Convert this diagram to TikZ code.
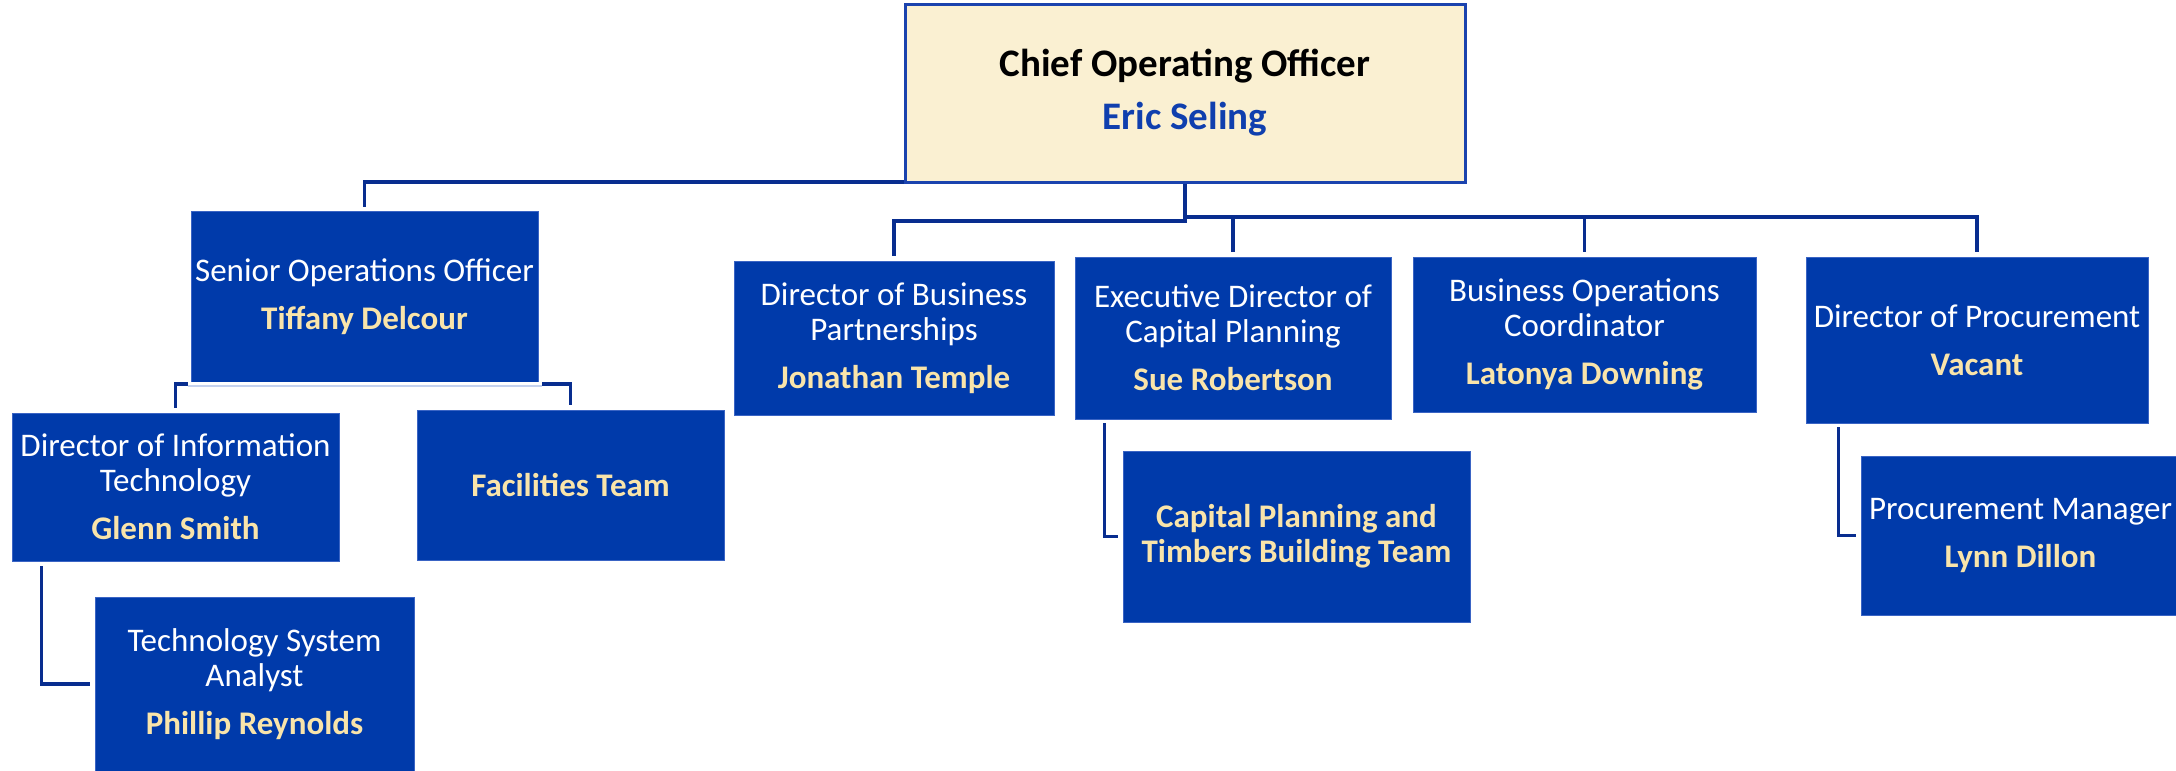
\documentclass[tikz,border=0pt]{standalone}
\usepackage{fontspec}
\setmainfont{Carlito}
\definecolor{boxblue}{HTML}{003AAA}
\definecolor{boxedge}{HTML}{3A64C4}
\definecolor{connblue}{HTML}{082D8F}
\definecolor{ceofill}{HTML}{FAF0D2}
\definecolor{ceoedge}{HTML}{1B43AE}
\definecolor{ceoname}{HTML}{0F3FAE}
\definecolor{nameyellow}{HTML}{F9E4AA}
\definecolor{lightline}{HTML}{C5D2EE}
\newcommand{\nm}[1]{\textbf{\color{nameyellow}#1}}
\tikzset{
  orgbox/.style={fill=boxblue, draw=boxedge, line width=0.4pt, text=white, align=center,
    inner sep=0pt, font=\fontsize{16.5}{17.5}\selectfont},
  ceobox/.style={fill=ceofill, draw=ceoedge, line width=1.5pt, text=black, align=center,
    inner sep=0pt, font=\fontsize{19.5}{26.5}\selectfont},
  conn/.style={draw=connblue, line width=1.7pt}
}
\begin{document}
\begin{tikzpicture}[x=0.5pt,y=-0.5pt]
\useasboundingbox (0,0) rectangle (2176,771);
\clip (0,0) rectangle (2176,771);
\fill[white] (0,0) rectangle (2176,771);

\coordinate (busl) at (0,221);
\coordinate (busr) at (0,217);
\coordinate (bracket) at (0,384);

% nodes
\node[ceobox, minimum width=280pt, minimum height=89pt] (ceo) at (1185,93)
  {\textbf{Chief Operating Officer}\\\textbf{\color{ceoname}Eric Seling}};
\node[orgbox, minimum width=173.5pt, minimum height=85.5pt] (soo) at (364.5,296.5)
  {Senior Operations Officer\\[6.5pt]\nm{Tiffany Delcour}};
\node[orgbox, minimum width=160pt, minimum height=77pt] (dbp) at (894,338)
  {Director of Business\\Partnerships\\[6.5pt]\nm{Jonathan Temple}};
\node[orgbox, minimum width=158pt, minimum height=81pt] (edcp) at (1233,338)
  {Executive Director of\\Capital Planning\\[6.5pt]\nm{Sue Robertson}};
\node[orgbox, minimum width=171.5pt, minimum height=77.5pt] (boc) at (1584.5,334.5)
  {Business Operations\\Coordinator\\[6.5pt]\nm{Latonya Downing}};
\node[orgbox, minimum width=171pt, minimum height=83pt] (dproc) at (1977,340)
  {Director of Procurement\\[6.5pt]\nm{Vacant}};
\node[orgbox, minimum width=163.5pt, minimum height=74pt] (dit) at (175.5,487)
  {Director of Information\\Technology\\[6.5pt]\nm{Glenn Smith}};
\node[orgbox, minimum width=153.5pt, minimum height=75pt] (fac) at (570.5,485)
  {\nm{Facilities Team}};
\node[orgbox, minimum width=159.5pt, minimum height=87pt] (tsa) at (254.5,684)
  {Technology System\\Analyst\\[6.5pt]\nm{Phillip Reynolds}};
\node[orgbox, minimum width=173.5pt, minimum height=85.5pt] (cpt) at (1296.5,536.5)
  {\nm{Capital Planning and}\\\nm{Timbers Building Team}};
\node[orgbox, minimum width=159.5pt, minimum height=79.5pt] (pm) at (2020.5,535.5)
  {Procurement Manager\\[6.5pt]\nm{Lynn Dillon}};

% CEO to Senior Operations Officer
\draw[conn] ([yshift=0.8pt]ceo.south west) -- ([yshift=0.8pt]ceo.south west -| soo.north) -- ([yshift=2pt]soo.north);
% CEO to directors
\draw[conn] (ceo.south) -- (ceo.south |- busl) -- (dbp.north |- busl) -- ([yshift=2.5pt]dbp.north);
\draw[conn] (ceo.south |- busr) -- (dproc.north |- busr) -- ([yshift=2.5pt]dproc.north);
\draw[conn] (edcp.north |- busr) -- ([yshift=2.5pt]edcp.north);
\draw[conn] (boc.north |- busr) -- ([yshift=2.5pt]boc.north);

% Senior Operations Officer bracket
\draw[conn] ([yshift=2.5pt]dit.north) -- (dit.north |- bracket) -- (fac.north |- bracket) -- ([yshift=2.5pt]fac.north);
\fill[white] ([xshift=-1.5pt]soo.south west) rectangle ([xshift=2pt,yshift=-1.6pt]soo.south east);
\draw[lightline, line width=1pt] ([xshift=-1.5pt,yshift=-2pt]soo.south west) -- ([xshift=2pt,yshift=-2pt]soo.south east);

% sub-reports
\draw[conn] ([xshift=15pt,yshift=-2.5pt]dit.south west) |- ([xshift=-2.5pt]tsa.west);
\draw[conn] ([xshift=15pt,yshift=-2pt]edcp.south west) |- ([xshift=-2.5pt]cpt.west);
\draw[conn] ([xshift=16.5pt,yshift=-2pt]dproc.south west) |- ([xshift=-2.5pt]pm.west);
\end{tikzpicture}
\end{document}
